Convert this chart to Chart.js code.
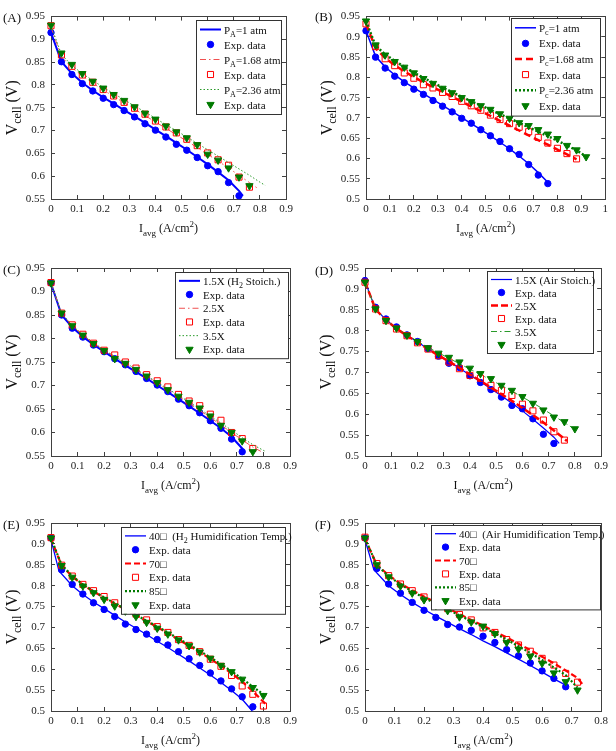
<!DOCTYPE html>
<html>
<head>
<meta charset="utf-8">
<title>Polarization curves (A)-(F)</title>
<script src="https://cdn.jsdelivr.net/npm/chart.js@4.4.1/dist/chart.umd.min.js"></script>
<style>
  body { margin: 0; background: #fff; }
  #fig { position: relative; width: 616px; height: 751px; overflow: hidden; }
  #fig canvas { position: absolute; }
</style>
</head>
<body>
<div id="fig">
  <canvas id="panelA" width="308" height="245" style="left:0;top:0"></canvas>
  <canvas id="panelB" width="308" height="245" style="left:308px;top:0"></canvas>
  <canvas id="panelC" width="308" height="255" style="left:0;top:245px"></canvas>
  <canvas id="panelD" width="308" height="255" style="left:308px;top:245px"></canvas>
  <canvas id="panelE" width="308" height="251" style="left:0;top:500px"></canvas>
  <canvas id="panelF" width="308" height="251" style="left:308px;top:500px"></canvas>
</div>
<script>
const FONT = '"Liberation Serif", "Times New Roman", serif';
const BLUE = '#0000ff', RED = '#ff0000', GREEN = '#007a00';

// current density grids, A/cm2
const x072 = [0, 0.04, 0.08, 0.12, 0.16, 0.2, 0.24, 0.28, 0.32, 0.36, 0.4, 0.44, 0.48, 0.52, 0.56, 0.6, 0.64, 0.68, 0.72];
const x068 = x072.slice(0, 18);
const x076 = x072.concat([0.76]);
const x080 = x076.concat([0.8]);
const x088 = x080.concat([0.84, 0.88]);
const x092 = x088.concat([0.92]);

// (A) anode pressure
const aLabels = ['P_{A}=1 atm', 'Exp. data', 'P_{A}=1.68 atm', 'Exp. data', 'P_{A}=2.36 atm', 'Exp. data'];
const aExp1 = [0.915, 0.851, 0.823, 0.803, 0.787, 0.771, 0.757, 0.744, 0.730, 0.715, 0.701, 0.686, 0.670, 0.657, 0.641, 0.623, 0.610, 0.586, 0.557];
const aExp2 = [0.930, 0.866, 0.841, 0.822, 0.806, 0.790, 0.776, 0.762, 0.749, 0.736, 0.721, 0.708, 0.695, 0.681, 0.667, 0.651, 0.636, 0.624, 0.598, 0.576];
const aExp3 = [0.931, 0.870, 0.845, 0.825, 0.808, 0.793, 0.779, 0.766, 0.752, 0.738, 0.725, 0.710, 0.697, 0.684, 0.669, 0.648, 0.635, 0.618, 0.598, 0.579];
const aFitX1 = x072.concat([0.735]);
const aFit1 = [0.915, 0.851, 0.825, 0.805, 0.788, 0.773, 0.759, 0.745, 0.731, 0.717, 0.702, 0.688, 0.673, 0.658, 0.642, 0.626, 0.609, 0.591, 0.568, 0.557];
const aFitX2 = x076.concat([0.795]);
const aFit2 = [0.927, 0.862, 0.838, 0.820, 0.804, 0.789, 0.775, 0.761, 0.747, 0.733, 0.719, 0.705, 0.691, 0.677, 0.663, 0.648, 0.633, 0.618, 0.602, 0.586, 0.572];
const aFitX3 = x080.concat([0.82]);
const aFit3 = [0.930, 0.867, 0.843, 0.825, 0.810, 0.795, 0.781, 0.768, 0.754, 0.741, 0.727, 0.713, 0.700, 0.686, 0.672, 0.658, 0.644, 0.630, 0.616, 0.602, 0.587, 0.580];

// (B) cathode pressure
const bLabels = ['P_{c}=1 atm', 'Exp. data', 'P_{c}=1.68 atm', 'Exp. data', 'P_{c}=2.36 atm', 'Exp. data'];
const bExp1 = [0.915, 0.850, 0.823, 0.803, 0.787, 0.771, 0.758, 0.743, 0.729, 0.715, 0.699, 0.687, 0.671, 0.656, 0.642, 0.624, 0.610, 0.585, 0.559, 0.538];
const bExp2 = [0.932, 0.876, 0.846, 0.829, 0.811, 0.798, 0.782, 0.774, 0.763, 0.753, 0.741, 0.730, 0.719, 0.707, 0.696, 0.686, 0.677, 0.666, 0.652, 0.638, 0.625, 0.612, 0.599];
const bExp3 = [0.939, 0.880, 0.855, 0.839, 0.825, 0.811, 0.797, 0.785, 0.773, 0.762, 0.750, 0.740, 0.730, 0.721, 0.710, 0.699, 0.688, 0.681, 0.671, 0.660, 0.649, 0.632, 0.621, 0.604];
const bFitX1 = x072.concat([0.765]);
const bFit1 = [0.915, 0.852, 0.826, 0.806, 0.789, 0.774, 0.760, 0.745, 0.731, 0.716, 0.701, 0.686, 0.671, 0.656, 0.640, 0.624, 0.606, 0.587, 0.565, 0.538];
const bFit2 = [0.932, 0.872, 0.848, 0.830, 0.815, 0.801, 0.788, 0.776, 0.764, 0.752, 0.740, 0.728, 0.717, 0.705, 0.693, 0.681, 0.669, 0.657, 0.645, 0.634, 0.622, 0.610, 0.598];
const bFit3 = [0.939, 0.878, 0.857, 0.841, 0.826, 0.812, 0.799, 0.787, 0.775, 0.764, 0.752, 0.741, 0.731, 0.720, 0.709, 0.699, 0.688, 0.677, 0.666, 0.655, 0.644, 0.632, 0.620, 0.605];

// (C) H2 stoichiometry
const cLabels = ['1.5X (H_{2} Stoich.)', 'Exp. data', '2.5X', 'Exp. data', '3.5X', 'Exp. data'];
const cExp1 = [0.918, 0.850, 0.822, 0.803, 0.786, 0.772, 0.757, 0.744, 0.730, 0.715, 0.701, 0.687, 0.671, 0.657, 0.642, 0.625, 0.609, 0.586, 0.559];
const cExp2 = [0.919, 0.854, 0.829, 0.809, 0.790, 0.775, 0.765, 0.750, 0.737, 0.723, 0.710, 0.697, 0.681, 0.667, 0.657, 0.639, 0.626, 0.600, 0.587, 0.566];
const cExp3 = [0.918, 0.854, 0.827, 0.807, 0.789, 0.774, 0.757, 0.747, 0.734, 0.720, 0.706, 0.691, 0.677, 0.664, 0.652, 0.635, 0.615, 0.600, 0.582, 0.559];
const cFitX1 = x072.concat([0.728]);
const cFit1 = [0.917, 0.850, 0.824, 0.804, 0.787, 0.772, 0.757, 0.743, 0.729, 0.715, 0.700, 0.686, 0.671, 0.656, 0.641, 0.625, 0.609, 0.591, 0.566, 0.559];
const cFitX2 = x076.concat([0.79]);
const cFit2 = [0.918, 0.853, 0.827, 0.807, 0.790, 0.775, 0.761, 0.747, 0.733, 0.719, 0.705, 0.691, 0.677, 0.662, 0.647, 0.632, 0.616, 0.600, 0.584, 0.569, 0.560];
const cFitX3 = x080.concat([0.81]);
const cFit3 = [0.918, 0.854, 0.828, 0.808, 0.791, 0.776, 0.762, 0.748, 0.735, 0.721, 0.707, 0.693, 0.679, 0.665, 0.650, 0.635, 0.620, 0.605, 0.589, 0.574, 0.562, 0.559];

// (D) air stoichiometry
const dLabels = ['1.5X (Air Stoich.)', 'Exp. data', '2.5X', 'Exp. data', '3.5X', 'Exp. data'];
const dExp1 = [0.920, 0.856, 0.828, 0.809, 0.790, 0.774, 0.757, 0.739, 0.722, 0.712, 0.692, 0.676, 0.659, 0.641, 0.621, 0.613, 0.589, 0.552, 0.530];
const dExp2 = [0.916, 0.852, 0.824, 0.804, 0.788, 0.771, 0.756, 0.740, 0.725, 0.709, 0.693, 0.686, 0.669, 0.657, 0.645, 0.624, 0.608, 0.586, 0.558, 0.538];
const dExp3 = [0.916, 0.852, 0.824, 0.806, 0.789, 0.774, 0.759, 0.746, 0.736, 0.725, 0.710, 0.697, 0.685, 0.669, 0.657, 0.642, 0.626, 0.610, 0.593, 0.582, 0.565];
const dFitX1 = x072.concat([0.74]);
const dFit1 = [0.918, 0.852, 0.826, 0.806, 0.789, 0.773, 0.757, 0.741, 0.726, 0.710, 0.694, 0.678, 0.661, 0.644, 0.626, 0.608, 0.588, 0.567, 0.545, 0.530];
const dFitX2 = x076.concat([0.77]);
const dFit2 = [0.917, 0.851, 0.825, 0.805, 0.788, 0.772, 0.756, 0.741, 0.726, 0.711, 0.695, 0.680, 0.664, 0.648, 0.632, 0.615, 0.598, 0.580, 0.561, 0.541, 0.536];
const dFitX3 = x080.concat([0.81]);
const dFit3 = [0.916, 0.852, 0.826, 0.806, 0.790, 0.775, 0.760, 0.747, 0.734, 0.721, 0.708, 0.695, 0.682, 0.669, 0.655, 0.641, 0.627, 0.612, 0.596, 0.580, 0.564, 0.561];

// (E) H2 humidification temperature
const eLabels = ['40\u25A1  (H_{2} Humidification Temp.)', 'Exp. data', '70\u25A1', 'Exp. data', '85\u25A1', 'Exp. data'];
const eExp1 = [0.914, 0.838, 0.803, 0.780, 0.759, 0.743, 0.726, 0.708, 0.695, 0.684, 0.671, 0.658, 0.642, 0.625, 0.609, 0.591, 0.572, 0.553, 0.534, 0.510];
const eExp2 = [0.915, 0.849, 0.823, 0.803, 0.788, 0.774, 0.759, 0.746, 0.732, 0.718, 0.702, 0.688, 0.671, 0.657, 0.642, 0.624, 0.607, 0.585, 0.560, 0.540, 0.512];
const eExp3 = [0.914, 0.848, 0.820, 0.799, 0.783, 0.767, 0.751, 0.739, 0.726, 0.712, 0.698, 0.684, 0.670, 0.656, 0.641, 0.626, 0.609, 0.594, 0.576, 0.556, 0.537];
const eFitX1 = [0, 0.03, 0.08, 0.12, 0.16, 0.2, 0.24, 0.28, 0.32, 0.36, 0.4, 0.44, 0.48, 0.52, 0.56, 0.6, 0.64, 0.68, 0.72, 0.758];
const eFit1 = [0.910, 0.835, 0.800, 0.779, 0.761, 0.745, 0.729, 0.713, 0.698, 0.683, 0.667, 0.652, 0.636, 0.620, 0.603, 0.586, 0.568, 0.549, 0.528, 0.500];
const eFitX2 = x080.concat([0.81]);
const eFit2 = [0.912, 0.848, 0.822, 0.802, 0.786, 0.771, 0.757, 0.743, 0.729, 0.715, 0.701, 0.686, 0.671, 0.656, 0.641, 0.625, 0.608, 0.590, 0.570, 0.547, 0.522, 0.515];
const eFit3 = [0.913, 0.850, 0.823, 0.803, 0.787, 0.772, 0.758, 0.744, 0.730, 0.716, 0.702, 0.688, 0.673, 0.659, 0.644, 0.628, 0.612, 0.595, 0.577, 0.558, 0.540, 0.536];

// (F) air humidification temperature
const fLabels = ['40\u25A1  (Air Humidification Temp.)', 'Exp. data', '70\u25A1', 'Exp. data', '85\u25A1', 'Exp. data'];
const fExp1 = [0.914, 0.841, 0.804, 0.782, 0.760, 0.741, 0.724, 0.707, 0.701, 0.693, 0.679, 0.664, 0.647, 0.632, 0.615, 0.596, 0.578, 0.558];
const fExp2 = [0.916, 0.853, 0.824, 0.804, 0.788, 0.773, 0.759, 0.745, 0.731, 0.718, 0.699, 0.688, 0.671, 0.658, 0.643, 0.626, 0.610, 0.590, 0.569];
const fExp3 = [0.914, 0.850, 0.821, 0.799, 0.782, 0.766, 0.752, 0.740, 0.725, 0.713, 0.703, 0.685, 0.664, 0.648, 0.631, 0.614, 0.591, 0.570, 0.550];
const fFitX1 = [0, 0.03, 0.08, 0.12, 0.16, 0.2, 0.24, 0.28, 0.32, 0.36, 0.4, 0.44, 0.48, 0.52, 0.56, 0.6, 0.64, 0.68];
const fFit1 = [0.910, 0.838, 0.800, 0.779, 0.760, 0.743, 0.727, 0.712, 0.697, 0.683, 0.668, 0.654, 0.639, 0.624, 0.609, 0.593, 0.577, 0.562];
const fFitX2 = x072.concat([0.74]);
const fFit2 = [0.912, 0.850, 0.825, 0.805, 0.789, 0.774, 0.760, 0.746, 0.732, 0.718, 0.704, 0.690, 0.676, 0.661, 0.646, 0.630, 0.614, 0.597, 0.579, 0.561];
const fFit3 = [0.913, 0.849, 0.823, 0.803, 0.786, 0.771, 0.757, 0.743, 0.729, 0.715, 0.701, 0.686, 0.671, 0.655, 0.639, 0.622, 0.604, 0.586, 0.556];

// line styles for model curves 1..3 (thin lines are drawn lighter, as in the figure)
const thinStyle = [{ w: 2, dash: [] }, { w: 1, dash: [6, 3, 1.5, 3], c: '#f05050' }, { w: 1, dash: [1.5, 2], c: '#2a9a2a' }];
const thickStyle = [{ w: 1.3, dash: [] }, { w: 2.2, dash: [6, 3] }, { w: 2.2, dash: [2, 2] }];

const panels = [
    { id: 'panelA', tag: '(A)', cell: [0, 0], area: [51, 286, 15, 199], xMax: 0.9, yMin: 0.55, tagPos: [3, 17],
      legend: { r: 5, t: 3, w: 85, rowH: 15 }, labels: aLabels, lines: thinStyle,
      fits: [[aFitX1, aFit1], [aFitX2, aFit2], [aFitX3, aFit3]], exps: [[x072, aExp1], [x076, aExp2], [x076, aExp3]] },
    { id: 'panelB', tag: '(B)', cell: [308, 0], area: [366, 606, 11, 199], xMax: 1, yMin: 0.5, tagPos: [315, 16],
      legend: { r: 5, t: 1, w: 89, rowH: 15.6 }, labels: bLabels,
      lines: [{ w: 1.5, dash: [] }, { w: 2.5, dash: [7, 4] }, { w: 2.5, dash: [2, 2] }],
      fits: [[bFitX1, bFit1], [x088, bFit2], [x092, bFit3]], exps: [[x076, bExp1], [x088, bExp2], [x092, bExp3]] },
    { id: 'panelC', tag: '(C)', cell: [0, 245], area: [51, 290, 268, 456], xMax: 0.9, yMin: 0.55, tagPos: [3, 269],
      legend: { r: 2, t: 4, w: 113, rowH: 13.7 }, labels: cLabels, lines: thinStyle,
      fits: [[cFitX1, cFit1], [cFitX2, cFit2], [cFitX3, cFit3]], exps: [[x072, cExp1], [x076, cExp2], [x076, cExp3]] },
    { id: 'panelD', tag: '(D)', cell: [308, 245], area: [365, 603, 268, 456], xMax: 0.9, yMin: 0.5, tagPos: [315, 270],
      legend: { r: 8, t: 3, w: 106, rowH: 13 }, labels: dLabels,
      lines: [{ w: 1.2, dash: [] }, { w: 2.5, dash: [7, 3] }, { w: 1, dash: [6, 3, 1.5, 3], c: '#2a9a2a' }],
      fits: [[dFitX1, dFit1], [dFitX2, dFit2], [dFitX3, dFit3]], exps: [[x072, dExp1], [x076, dExp2], [x080, dExp3]] },
    { id: 'panelE', tag: '(E)', cell: [0, 500], area: [51, 290, 523, 711], xMax: 0.9, yMin: 0.5, tagPos: [3, 524],
      legend: { r: 5, t: 4, w: 164, rowH: 13.8 }, labels: eLabels, lines: thickStyle,
      fits: [[eFitX1, eFit1], [eFitX2, eFit2], [eFitX2, eFit3]], exps: [[x076, eExp1], [x080, eExp2], [x080, eExp3]] },
    { id: 'panelF', tag: '(F)', cell: [308, 500], area: [365, 603, 523, 711], xMax: 0.8, yMin: 0.5, tagPos: [315, 524],
      legend: { r: 1, t: 2, w: 169, rowH: 13.4 }, labels: fLabels, lines: thickStyle,
      fits: [[fFitX1, fFit1], [fFitX2, fFit2], [x072, fFit3]], exps: [[x068, fExp1], [x072, fExp2], [x072, fExp3]] }
];

const COLORS = [BLUE, RED, GREEN];
const MARKS = [
    { style: 'circle', r: 3.2, fill: BLUE, rot: 0 },
    { style: 'rect', r: 4.3, fill: 'rgba(0,0,0,0)', rot: 0 },
    { style: 'triangle', r: 4.2, fill: GREEN, rot: 180 }
];
const Y_AXIS_W = 45, X_AXIS_H = 22;

function pts(xs, ys) {
    return xs.map((x, i) => ({ x: x, y: ys[i] }));
}

function plain(s) {
    return s.replace(/[_^]\{([^}]*)\}/g, '$1');
}

// "V_{cell} (V)" -> runs with sub/superscript flags
function richParts(str) {
    const out = [];
    const re = /([_^])\{([^}]*)\}/g;
    let last = 0, m;
    while ((m = re.exec(str))) {
        if (m.index > last) out.push({ t: str.slice(last, m.index), k: 0 });
        out.push({ t: m[2], k: m[1] === '_' ? -1 : 1 });
        last = re.lastIndex;
    }
    if (last < str.length) out.push({ t: str.slice(last), k: 0 });
    return out;
}

function drawRich(ctx, str, x, y, size, align) {
    const parts = richParts(str);
    const fontOf = k => (k ? Math.round(size * 0.72) : size) + 'px ' + FONT;
    let w = 0;
    parts.forEach(p => { ctx.font = fontOf(p.k); p.w = ctx.measureText(p.t).width; w += p.w; });
    let cx = align === 'center' ? x - w / 2 : x;
    ctx.textAlign = 'left';
    ctx.textBaseline = 'alphabetic';
    parts.forEach(p => {
        ctx.font = fontOf(p.k);
        const dy = p.k < 0 ? size * 0.3 : (p.k > 0 ? -size * 0.4 : 0);
        ctx.fillText(p.t, cx, y + dy);
        cx += p.w;
    });
    return w;
}

function drawMark(ctx, m, color, x, y) {
    ctx.beginPath();
    if (m.style === 'circle') {
        ctx.arc(x, y, m.r, 0, Math.PI * 2);
    } else if (m.style === 'rect') {
        const h = m.r * Math.SQRT1_2;
        ctx.rect(x - h, y - h, 2 * h, 2 * h);
    } else {
        let rad = Math.PI;
        for (let i = 0; i < 3; i++) {
            const px = x + Math.sin(rad) * m.r, py = y - Math.cos(rad) * m.r;
            if (i === 0) ctx.moveTo(px, py); else ctx.lineTo(px, py);
            rad += Math.PI * 2 / 3;
        }
        ctx.closePath();
    }
    ctx.fillStyle = m.fill;
    ctx.fill();
    ctx.strokeStyle = color;
    ctx.lineWidth = 1;
    ctx.setLineDash([]);
    ctx.stroke();
}

function decorPlugin(p) {
    return {
        id: 'decor',
        afterDatasetsDraw(chart) {
            const ctx = chart.ctx, a = chart.chartArea, lg = p.legend;
            const bh = lg.rowH * 6 + 4;
            const bx = Math.round(a.right - lg.r - lg.w), by = Math.round(a.top + lg.t);
            ctx.save();
            ctx.fillStyle = '#fff';
            ctx.fillRect(bx, by, lg.w, bh);
            ctx.strokeStyle = '#333';
            ctx.lineWidth = 1;
            ctx.setLineDash([]);
            ctx.strokeRect(bx + 0.5, by + 0.5, lg.w, bh);
            for (let i = 0; i < 6; i++) {
                const k = Math.floor(i / 2);
                const cy = by + 2 + lg.rowH * (i + 0.5);
                if (i % 2 === 0) {
                    ctx.beginPath();
                    ctx.strokeStyle = p.lines[k].c || COLORS[k];
                    ctx.lineWidth = p.lines[k].w;
                    ctx.setLineDash(p.lines[k].dash);
                    ctx.moveTo(bx + 4, cy);
                    ctx.lineTo(bx + 25, cy);
                    ctx.stroke();
                } else {
                    drawMark(ctx, MARKS[k], COLORS[k], bx + 14.5, cy);
                }
                ctx.fillStyle = '#111';
                drawRich(ctx, p.labels[i], bx + 28, cy + 4, 11, 'left');
            }
            ctx.restore();
        },
        afterDraw(chart) {
            const ctx = chart.ctx, a = chart.chartArea;
            ctx.save();
            ctx.fillStyle = '#111';
            drawRich(ctx, 'I_{avg} (A/cm^{2})', (a.left + a.right) / 2, a.bottom + 33, 12, 'center');
            ctx.translate(a.left - 40, (a.top + a.bottom) / 2);
            ctx.rotate(-Math.PI / 2);
            drawRich(ctx, 'V_{cell} (V)', 0, 5.5, 16, 'center');
            ctx.restore();
            ctx.save();
            ctx.fillStyle = '#111';
            drawRich(ctx, p.tag, p.tagPos[0] - p.cell[0], p.tagPos[1] - p.cell[1] + 4.5, 13, 'left');
            ctx.restore();
        }
    };
}

function tickText(v) {
    return String(Math.round(v * 100) / 100);
}

function makePanel(p) {
    const canvas = document.getElementById(p.id);
    const [L, R, T, B] = p.area;
    const pad = {
        left: L - p.cell[0] - Y_AXIS_W,
        right: p.cell[0] + canvas.width - R,
        top: T - p.cell[1],
        bottom: p.cell[1] + canvas.height - B - X_AXIS_H
    };
    const datasets = [];
    for (let k = 0; k < 3; k++) {
        datasets.push({
            label: plain(p.labels[2 * k]),
            data: pts(p.fits[k][0], p.fits[k][1]),
            showLine: true,
            borderColor: p.lines[k].c || COLORS[k],
            borderWidth: p.lines[k].w,
            borderDash: p.lines[k].dash,
            pointRadius: 0,
            pointHoverRadius: 0,
            fill: false,
            clip: false,
            order: 6 - 2 * k
        });
        const m = MARKS[k];
        datasets.push({
            label: 'Exp. data',
            data: pts(p.exps[k][0], p.exps[k][1]),
            showLine: false,
            pointStyle: m.style,
            pointRadius: m.r,
            pointRotation: m.rot,
            pointBackgroundColor: m.fill,
            pointBorderColor: COLORS[k],
            pointBorderWidth: 1,
            clip: false,
            order: 5 - 2 * k
        });
    }
    const frame = '#404040';
    const tickFont = { family: FONT, size: 11 };
    new Chart(canvas.getContext('2d'), {
        type: 'scatter',
        data: { datasets },
        options: {
            responsive: false,
            animation: false,
            devicePixelRatio: 1,
            layout: { padding: pad },
            plugins: { legend: { display: false }, tooltip: { enabled: false } },
            scales: {
                x: {
                    type: 'linear', position: 'bottom', min: 0, max: p.xMax,
                    afterFit: s => { s.height = X_AXIS_H; },
                    grid: { drawOnChartArea: false, tickLength: -4, color: frame },
                    border: { color: frame },
                    ticks: { stepSize: 0.1, padding: 8, color: '#222', font: tickFont, autoSkip: false, maxRotation: 0, callback: tickText }
                },
                x2: {
                    type: 'linear', position: 'top', min: 0, max: p.xMax,
                    afterFit: s => { s.height = 0; },
                    grid: { drawOnChartArea: false, tickLength: -4, color: frame },
                    border: { color: frame },
                    ticks: { stepSize: 0.1, display: false }
                },
                y: {
                    type: 'linear', position: 'left', min: p.yMin, max: 0.95,
                    afterFit: s => { s.width = Y_AXIS_W; },
                    grid: { drawOnChartArea: false, tickLength: -4, color: frame },
                    border: { color: frame },
                    ticks: { stepSize: 0.05, padding: 10, color: '#222', font: tickFont, autoSkip: false, callback: tickText }
                },
                y2: {
                    type: 'linear', position: 'right', min: p.yMin, max: 0.95,
                    afterFit: s => { s.width = 0; },
                    grid: { drawOnChartArea: false, tickLength: -4, color: frame },
                    border: { color: frame },
                    ticks: { stepSize: 0.05, display: false }
                }
            }
        },
        plugins: [decorPlugin(p)]
    });
}

panels.forEach(makePanel);
</script>
</body>
</html>
